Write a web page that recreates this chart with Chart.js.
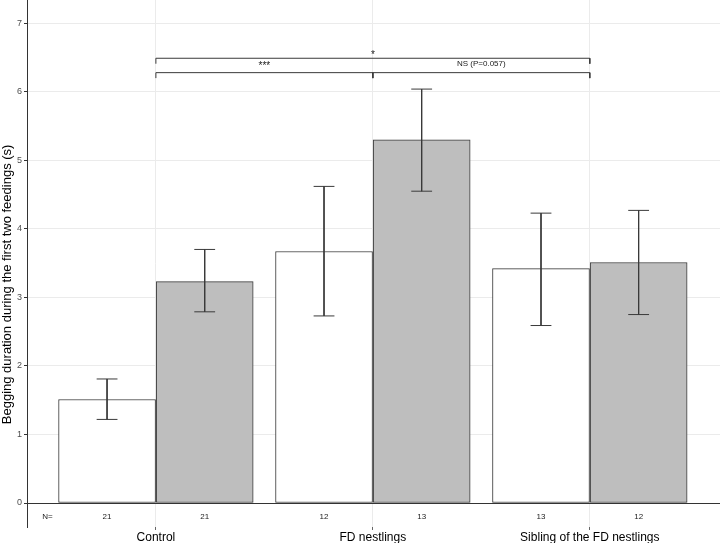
<!DOCTYPE html>
<html>
<head>
<meta charset="utf-8">
<script src="https://cdn.jsdelivr.net/npm/chart.js@4"></script>
<style>
  body { margin: 0; background: #fff; }
  #wrap { width: 720px; height: 543px; position: relative; }
</style>
</head>
<body>
<div id="wrap"><canvas id="chart"></canvas></div>
<script>
// groups on the x axis
const categories = ['Control', 'FD nestlings', 'Sibling of the FD nestlings'];
const yTicks = [0, 1, 2, 3, 4, 5, 6, 7];
const yTitle = 'Begging duration during the first two feedings (s)';

// white bars (left of each group)
const whiteMeans = [1.51, 3.67, 3.42];
const whiteLow = [1.22, 2.73, 2.59];
const whiteHigh = [1.81, 4.62, 4.23];
const whiteN = [21, 12, 13];

// grey bars (right of each group)
const greyMeans = [3.23, 5.30, 3.51];
const greyLow = [2.79, 4.55, 2.75];
const greyHigh = [3.70, 6.04, 4.27];
const greyN = [21, 13, 12];

// significance brackets
const bracketFrom = [0, 0, 1];
const bracketTo = [2, 1, 2];
const bracketY = [6.49, 6.28, 6.28];
const bracketLabels = ['*', '***', 'NS (P=0.057)'];
const bracketLabelY = [6.50, 6.34, 6.37];
const bracketLabelSize = [10, 10, 8];

const OFFSET = 0.225;   // half of a bar, in category units
const CAP = 0.048;      // half width of error bar caps
const TIP = 0.08;       // bracket tip drop
const FONT = '"Liberation Sans", Arial, Helvetica, sans-serif';

function errorBarPoints(means, low, high, shift) {
    const pts = [];
    means.forEach((m, i) => {
        const x = i + shift;
        pts.push({ x: x - CAP, y: high[i] }, { x: x + CAP, y: high[i] }, { x: x, y: null });
        pts.push({ x: x, y: high[i] }, { x: x, y: low[i] }, { x: x, y: null });
        pts.push({ x: x - CAP, y: low[i] }, { x: x + CAP, y: low[i] }, { x: x, y: null });
    });
    return pts;
}

function bracketPoints() {
    const pts = [];
    bracketFrom.forEach((f, i) => {
        const t = bracketTo[i];
        const y = bracketY[i];
        pts.push({ x: f, y: y - TIP }, { x: f, y: y }, { x: t, y: y }, { x: t, y: y - TIP }, { x: t, y: null });
    });
    return pts;
}

const lineStyle = {
    type: 'line',
    borderColor: '#3a3a3a',
    borderWidth: 1,
    pointRadius: 0,
    spanGaps: false,
    fill: false,
    order: 0
};

const textPlugin = {
    id: 'annotText',
    afterDatasetsDraw(chart) {
        const { ctx, scales: { x, y } } = chart;
        ctx.save();
        ctx.fillStyle = '#1a1a1a';
        ctx.textAlign = 'center';
        ctx.textBaseline = 'alphabetic';
        bracketLabels.forEach((label, i) => {
            const cx = (bracketFrom[i] + bracketTo[i]) / 2;
            ctx.font = bracketLabelSize[i] + 'px ' + FONT;
            ctx.fillText(label, x.getPixelForValue(cx), y.getPixelForValue(bracketLabelY[i]));
        });
        ctx.font = '8px ' + FONT;
        ctx.textBaseline = 'middle';
        ctx.fillStyle = '#222222';
        const rowY = y.getPixelForValue(-0.2);
        ctx.fillText('N=', x.getPixelForValue(-0.5), rowY);
        whiteN.forEach((n, i) => ctx.fillText(String(n), x.getPixelForValue(i - OFFSET), rowY));
        greyN.forEach((n, i) => ctx.fillText(String(n), x.getPixelForValue(i + OFFSET), rowY));

        // axis title, rotated
        ctx.translate(10.5, y.getPixelForValue(3.19));
        ctx.rotate(-Math.PI / 2);
        ctx.fillStyle = '#000000';
        ctx.font = '13px ' + FONT;
        ctx.textBaseline = 'alphabetic';
        ctx.fillText(yTitle, 0, 0);
        ctx.restore();
    }
};

new Chart(document.getElementById('chart'), {
    type: 'bar',
    data: {
        datasets: [
            Object.assign({ data: errorBarPoints(whiteMeans, whiteLow, whiteHigh, -OFFSET) }, lineStyle),
            Object.assign({ data: errorBarPoints(greyMeans, greyLow, greyHigh, OFFSET) }, lineStyle),
            Object.assign({ data: bracketPoints() }, lineStyle),
            {
                data: whiteMeans.map((m, i) => ({ x: i - OFFSET, y: m })),
                backgroundColor: '#ffffff',
                borderColor: '#3a3a3a',
                borderWidth: 1,
                borderSkipped: false,
                barThickness: 97,
                grouped: false,
                order: 1
            },
            {
                data: greyMeans.map((m, i) => ({ x: i + OFFSET, y: m })),
                backgroundColor: '#bebebe',
                borderColor: '#3a3a3a',
                borderWidth: 1,
                borderSkipped: false,
                barThickness: 97,
                grouped: false,
                order: 1
            }
        ]
    },
    options: {
        responsive: true,
        maintainAspectRatio: false,
        animation: false,
        layout: { padding: 0 },
        plugins: {
            legend: { display: false },
            tooltip: { enabled: false }
        },
        scales: {
            x: {
                type: 'linear',
                offset: false,
                min: -0.594,
                max: 2.6,
                afterBuildTicks: scale => { scale.ticks = categories.map((c, i) => ({ value: i })); },
                afterFit: scale => {
                    scale.height = 16;
                    scale.paddingLeft = 0;
                    scale.paddingRight = 0;
                },
                ticks: {
                    callback: v => categories[v],
                    color: '#000000',
                    font: { family: FONT, size: 12 },
                    padding: 0,
                    maxRotation: 0,
                    autoSkip: false
                },
                grid: {
                    offset: false,
                    color: '#ebebeb',
                    tickColor: '#666666',
                    tickLength: 3,
                    lineWidth: 1
                },
                border: { display: false }
            },
            y: {
                type: 'linear',
                min: -0.35,
                max: 7.34,
                afterBuildTicks: scale => { scale.ticks = yTicks.map(v => ({ value: v })); },
                afterFit: scale => {
                    scale.width = 27;
                    scale.paddingTop = 0;
                    scale.paddingBottom = 0;
                },
                ticks: {
                    color: '#4d4d4d',
                    font: { family: FONT, size: 9 },
                    padding: 2
                },
                grid: {
                    color: ctx => (ctx.tick && ctx.tick.value === 0 ? '#333333' : '#ebebeb'),
                    tickColor: '#333333',
                    tickLength: 3,
                    lineWidth: 1
                },
                border: { display: true, color: '#333333', width: 1 }
            }
        }
    },
    plugins: [textPlugin]
});
</script>
</body>
</html>
